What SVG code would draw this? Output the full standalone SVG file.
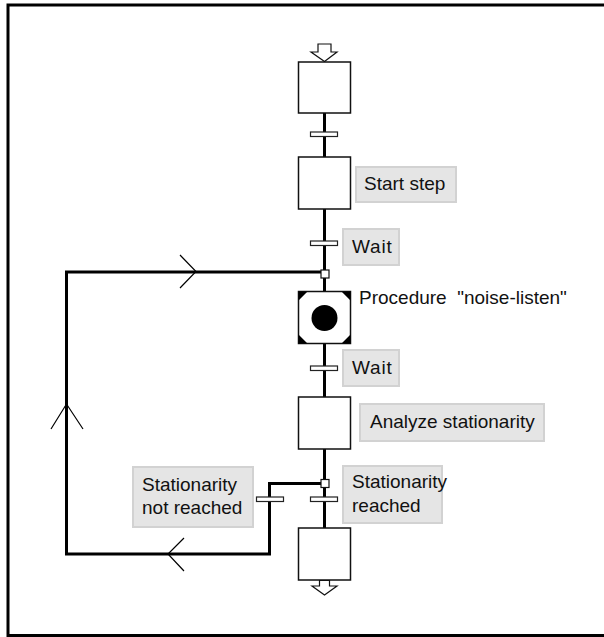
<svg xmlns="http://www.w3.org/2000/svg" width="604" height="637" viewBox="0 0 604 637">
<style>
.frame{fill:none;stroke:#000;stroke-width:3}
.step{fill:#fff;stroke:#111;stroke-width:1.5}
.bar{fill:#fff;stroke:#222;stroke-width:1.2}
.lbl{fill:#e5e5e5;stroke:#d2d2d2;stroke-width:2}
.t{font-family:"Liberation Sans",Arial,sans-serif;font-size:19px;fill:#111;white-space:pre}
.ln{fill:none;stroke:#000;stroke-width:3}
.chev{fill:none;stroke:#000;stroke-width:1.2}
.jn{fill:#fff;stroke:#111;stroke-width:1.2}
.arr{fill:#fff;stroke:#111;stroke-width:1.2}
</style>
<rect width="604" height="637" fill="#fff"/>
<path class="frame" d="M604,5 H8 V635.5 H604"/>
<g id="connectors">
<path class="ln" d="M324.5,113 V157 M324.5,209 V270 M324.5,278 V291 M324.5,344 V397 M324.5,449 V479 M324.5,488 V528"/>
<path class="ln" d="M321,272 H66.5 V554 H269.5 V483.5 H321"/>
<path class="chev" d="M180,255 L196,271.5 L180,288"/>
<path class="chev" d="M51,429 L66.5,404 L83,429"/>
<path class="chev" d="M184,538 L168,554 L184,571"/>
</g>
<g id="init-arrow"><path class="arr" d="M318,44 H331 V52 H337 L324.5,61.5 L311,52 H318 Z"/></g>
<g id="step1"><rect class="step" x="298.5" y="62" width="52" height="51"/></g>
<g id="t1"><rect class="bar" x="310.5" y="132" width="27" height="4.5"/></g>
<g id="step2"><rect class="step" x="298.5" y="157" width="52" height="52"/>
<rect class="lbl" x="356" y="167" width="100" height="35"/>
<text class="t" x="364" y="190">Start step</text></g>
<g id="t2"><rect class="bar" x="310.5" y="241" width="27" height="4.5"/>
<rect class="lbl" x="343" y="229" width="56" height="36"/>
<text class="t" x="352" y="253" letter-spacing="0.8">Wait</text></g>
<g id="j1"><rect class="jn" x="321" y="270" width="8" height="8"/></g>
<g id="procedure">
<rect class="step" x="298.5" y="291.5" width="52" height="52"/>
<path d="M298.5,291.5 h9 l-9,9 Z M350.5,291.5 h-9 l9,9 Z M298.5,343.5 h9 l-9,-9 Z M350.5,343.5 h-9 l9,-9 Z" fill="#000"/>
<circle cx="324.5" cy="318" r="13" fill="#000"/>
<text class="t" x="359" y="304">Procedure  "noise-listen"</text></g>
<g id="t3"><rect class="bar" x="310.5" y="366" width="27" height="4.5"/>
<rect class="lbl" x="343" y="350" width="56" height="36"/>
<text class="t" x="352" y="374" letter-spacing="0.8">Wait</text></g>
<g id="step3"><rect class="step" x="298.5" y="397" width="52" height="52"/>
<rect class="lbl" x="360" y="404" width="184" height="37"/>
<text class="t" x="370" y="428">Analyze stationarity</text></g>
<g id="j2"><rect class="jn" x="321" y="479.5" width="8" height="8"/></g>
<g id="t4"><rect class="bar" x="256.5" y="497" width="27" height="4.5"/>
<rect class="lbl" x="133" y="467" width="120" height="60"/>
<text class="t" x="142" y="491">Stationarity</text>
<text class="t" x="142" y="514">not reached</text></g>
<g id="t5"><rect class="bar" x="310.5" y="497" width="27" height="4.5"/>
<rect class="lbl" x="343" y="466" width="99" height="57"/>
<text class="t" x="352" y="488">Stationarity</text>
<text class="t" x="352" y="512">reached</text></g>
<g id="step4"><rect class="step" x="298.5" y="528" width="52" height="52"/></g>
<g id="final-arrow"><path class="arr" d="M319.5,580.5 H329.5 V586 H337 L324.5,595 L312,586 H319.5 Z"/></g>
</svg>
